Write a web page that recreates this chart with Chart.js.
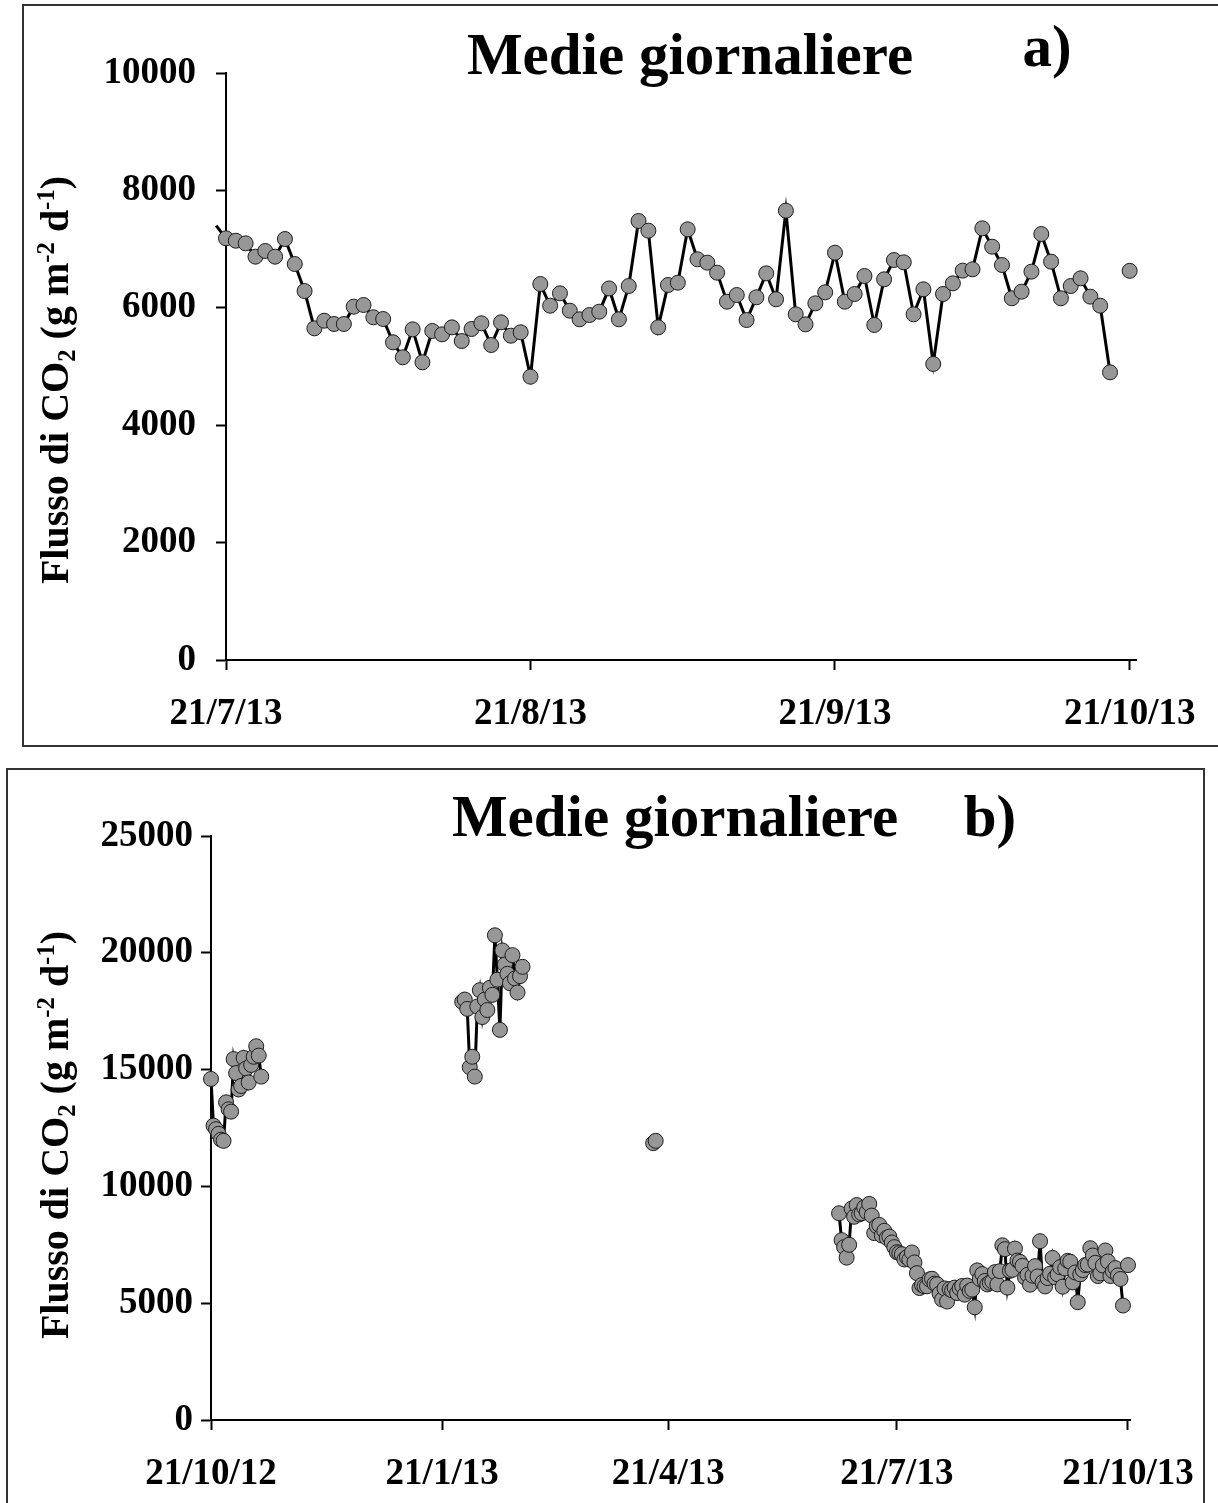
<!DOCTYPE html>
<html>
<head>
<meta charset="utf-8">
<script src="https://cdn.jsdelivr.net/npm/chart.js@4.4.1/dist/chart.umd.min.js"></script>
<style>
  body { margin: 0; background: #fff; width: 1218px; height: 1503px; overflow: hidden; position: relative; }
  .frame { position: absolute; border: 2px solid #333; box-sizing: border-box; }
  canvas { position: absolute; left: 0; }
</style>
</head>
<body>
<div class="frame" style="left:22px;top:4px;width:1210px;height:743px"></div>
<div class="frame" style="left:6px;top:768px;width:1199px;height:760px"></div>
<canvas id="chartA" width="1218" height="750" style="top:0"></canvas>
<canvas id="chartB" width="1218" height="753" style="top:750px"></canvas>
<script>
// daily means of CO2 flux, one value per day from each start date
const autumn12Start = '21/10/12'
const autumn12 = [14600, 12600, 12450, 12250, 12000, 11950, 13600, 13300, 13200, 15450,
  14850, 14150, 14300, 15500, 15050, 14450, 15200, 15550, 16000, 15600, 14700]

const winter13Start = '29/1/13'
const winter13 = [17900, 18000, 17600, 15100, 15550, 14700, 17700, 18400, 17250, 18000,
  17550, 18500, 18200, 20750, 18850, 16700, 20100, 19500, 19100, 18700,
  19900, 18900, 18300, 19000, 19400]

const april13Start = '15/4/13'
const april13 = [11850, 11950]

// 28/6/13 .. 19/10/13
const summer13Start = '28/6/13'
const summer13 = [8850, 7700, 7400, 6950, 7500, 9050, 8700, 9200, 8800, 8850,
  9100, 8900, 9250, 8750, 8000, 8300, 8350, 7900, 8100, 7800,
  7850, 7600, 7400,
  7184, 7143, 7098, 6871, 6968, 6871, 7172, 6746, 6286, 5650,
  5780, 5724, 5724, 6019, 6048, 5838, 5809, 5412, 5157, 5633,
  5071, 5605, 5548, 5667, 5434, 5639, 5736, 5366, 5753, 5525,
  5583, 4826, 6405, 6036, 6247, 5951, 5804, 5877, 5934, 6330,
  5804, 6371, 7479, 7314, 5667, 6388, 6428, 7337, 6826, 6769,
  6598, 6104, 6218, 5792, 6179, 6587, 6145, 7655, 5889, 5718,
  6076, 6264, 6939, 6104, 6235, 6542, 5707, 6485, 6814, 6775,
  5889, 6315, 5043, 6235, 6417, 6633, 6656, 7354, 7041, 6729,
  6162, 6275, 6616, 7257, 6786, 6162, 6371, 6502, 6190, 6036, 4901]

const oct13Start = '21/10/13'
const oct13 = [6630]

const ticksA = ['21/7/13', '21/8/13', '21/9/13', '21/10/13']
const ticksB = ['21/10/12', '21/1/13', '21/4/13', '21/7/13', '21/10/13']
const yTitle = [['Flusso di CO'], ['2', 'sub'], [' (g m'], ['-2', 'sup'], [' d'], ['-1', 'sup'], [')']]

const DAY = 86400000
const FONT = '"Liberation Serif", "Times New Roman", serif'

function dayOf(label) {
  const p = label.split('/').map(Number)
  return Date.UTC(2000 + p[2], p[1] - 1, p[0]) / DAY
}
function labelOf(day) {
  const t = new Date(Math.round(day) * DAY)
  return t.getUTCDate() + '/' + (t.getUTCMonth() + 1) + '/' + String(t.getUTCFullYear()).slice(2)
}
function joinSegments(segs) {
  const pts = []
  segs.forEach(function(seg, k) {
    const d0 = dayOf(seg[0])
    if (k) pts.push({x: pts[pts.length - 1].x + 1, y: null})
    seg[1].forEach(function(v, i) { pts.push({x: d0 + i, y: v}) })
  })
  return pts
}

const pointsB = joinSegments([[autumn12Start, autumn12], [winter13Start, winter13],
  [april13Start, april13], [summer13Start, summer13], [oct13Start, oct13]])
const firstA = dayOf(ticksA[0])
const pointsA = joinSegments([[summer13Start, summer13], [oct13Start, oct13]])
  .filter(function(p) { return p.x >= firstA - 1 })

const panelText = {
  id: 'panelText',
  afterDraw(chart, args, o) {
    const ctx = chart.ctx
    ctx.save()
    ctx.fillStyle = '#000'
    ctx.textBaseline = 'alphabetic'
    ctx.textAlign = 'center'
    ctx.font = 'bold ' + o.titleSize + 'px ' + FONT
    ctx.fillText('Medie giornaliere', o.titleX, o.titleY)
    ctx.fillText(o.tag, o.tagX, o.tagY)
    // rotated axis title with sub/superscripts
    const size = o.labelSize
    const fontFor = function(kind) { return 'bold ' + (kind ? size * 0.62 : size) + 'px ' + FONT }
    let total = 0
    yTitle.forEach(function(p) { ctx.font = fontFor(p[1]); total += ctx.measureText(p[0]).width })
    ctx.translate(o.labelX, o.labelY)
    ctx.rotate(-Math.PI / 2)
    ctx.textAlign = 'left'
    let x = -total / 2
    yTitle.forEach(function(p) {
      ctx.font = fontFor(p[1])
      const dy = p[1] === 'sub' ? size * 0.18 : p[1] === 'sup' ? -size * 0.36 : 0
      ctx.fillText(p[0], x, size * 0.33 + dy)
      x += ctx.measureText(p[0]).width
    })
    ctx.restore()
  }
}

function makeChart(id, points, ticks, yMax, yStep, box, text) {
  const xMin = dayOf(ticks[0])
  return new Chart(document.getElementById(id), {
    type: 'line',
    data: {
      datasets: [{
        data: points,
        borderColor: '#000',
        borderWidth: 3,
        pointBackgroundColor: '#979797',
        pointBorderColor: '#1c1c1c',
        pointBorderWidth: 1,
        pointRadius: function(c) { return c.raw && c.raw.x < xMin ? 0 : 7.5 },
        tension: 0,
        spanGaps: false,
        clip: false
      }]
    },
    options: {
      responsive: false,
      animation: false,
      events: [],
      layout: { padding: { left: 0, top: box.top, right: box.right, bottom: 0 } },
      plugins: { legend: { display: false }, tooltip: { enabled: false }, panelText: text },
      scales: {
        x: {
          type: 'linear',
          min: xMin,
          max: dayOf(ticks[ticks.length - 1]) + box.extra,
          afterBuildTicks: function(s) { s.ticks = ticks.map(function(t) { return {value: dayOf(t)} }) },
          afterFit: function(s) { s.height = box.xh },
          border: { color: '#000', width: 2 },
          grid: { drawOnChartArea: false, drawTicks: true, tickLength: 10, tickColor: '#000', tickWidth: 2 },
          ticks: {
            autoSkip: false, maxRotation: 0, padding: box.xpad, color: '#000',
            font: { family: FONT, size: 37, weight: 'bold' },
            callback: function(v) { return labelOf(v) }
          }
        },
        y: {
          min: 0,
          max: yMax,
          afterFit: function(s) { s.width = box.left },
          border: { color: '#000', width: 2 },
          grid: { drawOnChartArea: false, drawTicks: true, tickLength: 10, tickColor: '#000', tickWidth: 2 },
          ticks: {
            stepSize: yStep, padding: box.ypad, color: '#000',
            font: { family: FONT, size: 37, weight: 'bold' },
            callback: function(v) { return String(v) }
          }
        }
      }
    },
    plugins: [panelText]
  })
}

makeChart('chartA', pointsA, ticksA, 10000, 2000,
  { top: 73, right: 73, left: 226, xh: 90, extra: 0.7, xpad: 22, ypad: 20 },
  { titleSize: 59, titleX: 690, titleY: 74, tag: 'a)', tagX: 1047, tagY: 66, labelSize: 40, labelX: 55, labelY: 380 })

makeChart('chartB', pointsB, ticksB, 25000, 5000,
  { top: 86, right: 88, left: 211, xh: 83, extra: 0.8, xpad: 22, ypad: 8 },
  { titleSize: 59, titleX: 675, titleY: 86, tag: 'b)', tagX: 990, tagY: 86, labelSize: 40, labelX: 55, labelY: 385 })
</script>
</body>
</html>
